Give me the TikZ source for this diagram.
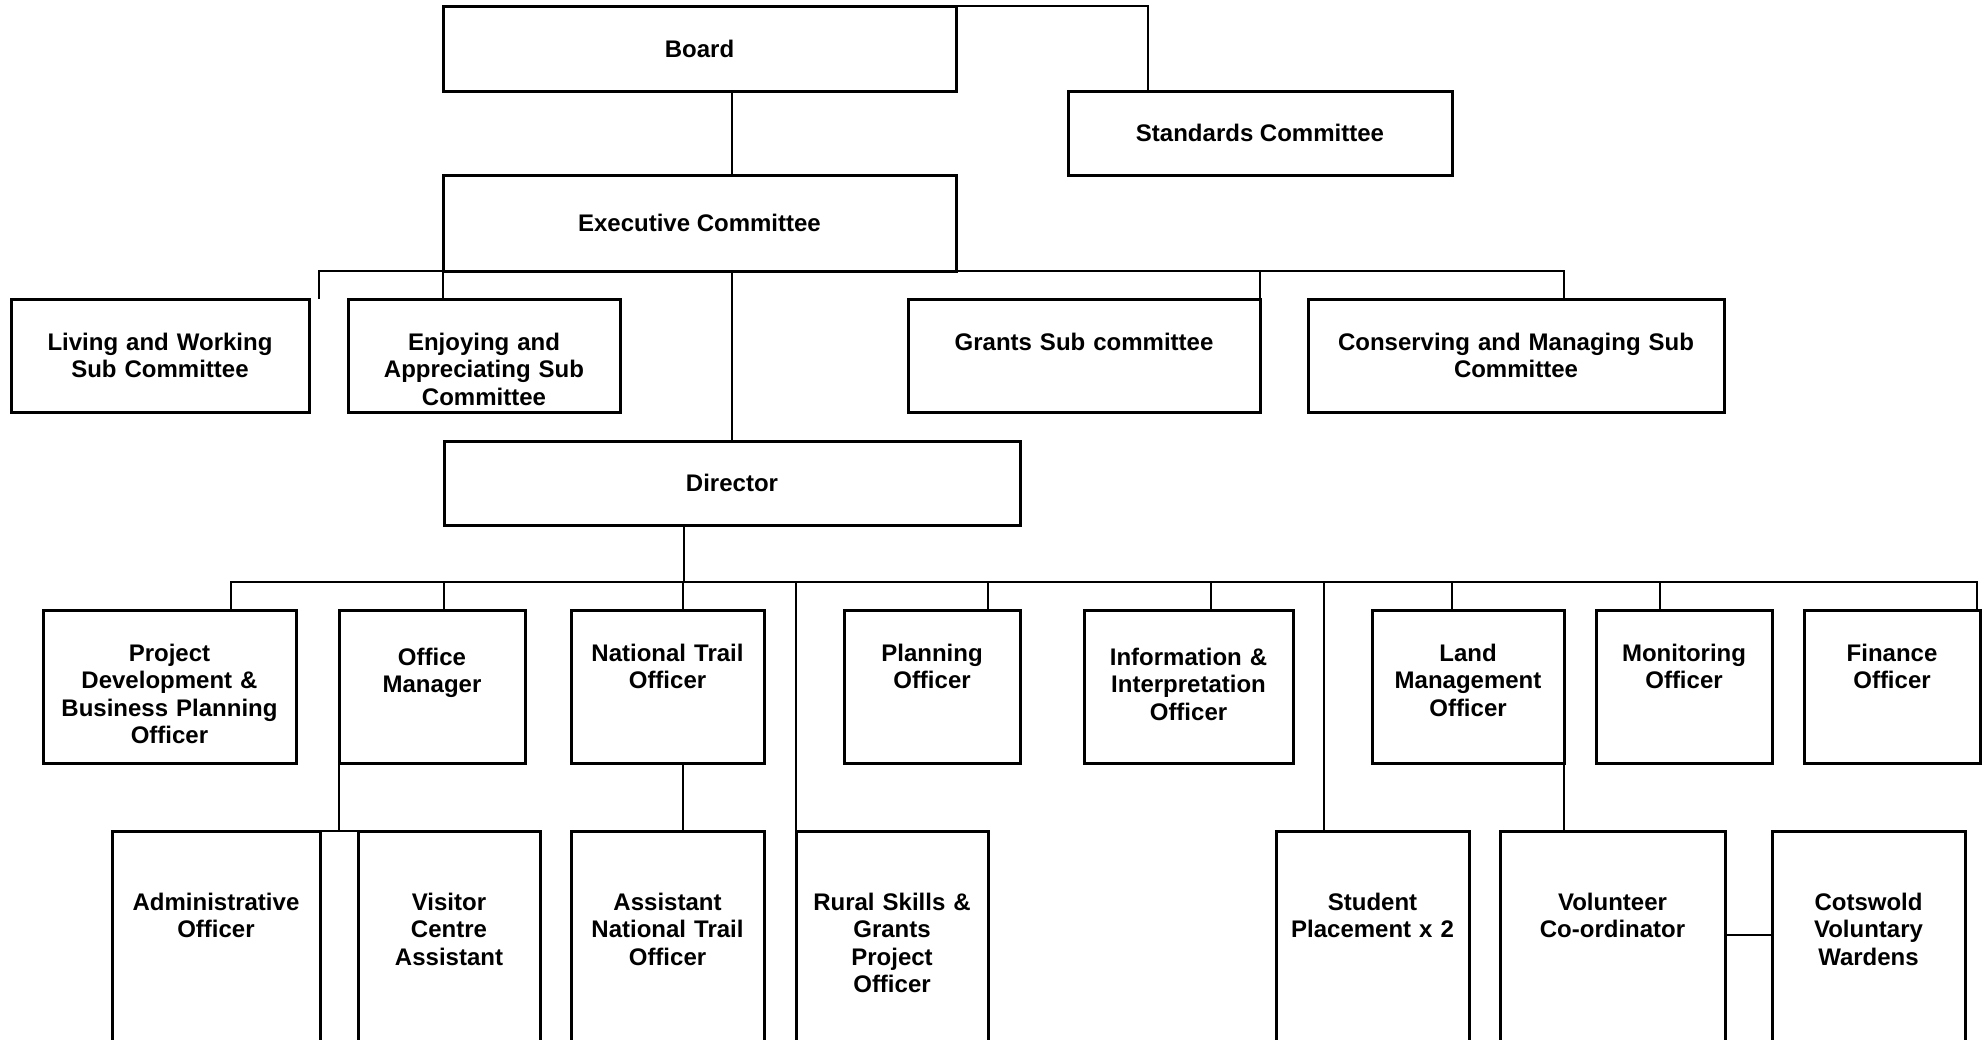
\documentclass[tikz,border=0pt]{standalone}
\usepackage{fontspec}
\setmainfont{Liberation Sans}
\newcommand{\orgfont}{\bfseries\fontsize{24}{27.6}\selectfont}
\tikzset{
    unit/.style =   {rectangle,
                    fill=white,
                    draw=black,
                    text=black,
                    line width=3pt,
                    inner sep=0pt,
                    outer sep=0pt,
                    align=center,
                    anchor=north west,
                    font=\orgfont},
    sub/.style =    {unit,
                    text height=51pt,
                    text depth=62pt},
    post/.style =   {unit,
                    text height=51pt,
                    text depth=102pt},
    staff/.style =  {unit,
                    text height=79pt,
                    text depth=151pt},
    link/.style =   {draw=black,
                    line width=2pt}}

\begin{document}
\begin{tikzpicture}[x=1pt,y=-1pt]
    \path[use as bounding box,clip] (0,0) rectangle (1984,1039);

    \node[unit, minimum width=513pt, minimum height=85pt]   (board)     at (443,6)      {Board};
    \node[unit, minimum width=384pt, minimum height=84pt]   (standards) at (1068,91)    {Standards Committee};
    \node[unit, minimum width=513pt, minimum height=96pt]   (exec)      at (443,175)    {Executive Committee};
    \node[sub, text width=298pt]                            (living)    at (11,299)     {Living and Working\\Sub Committee};
    \node[sub, text width=272pt]                            (enjoy)     at (348,299)    {Enjoying and\\Appreciating Sub\\Committee};
    \node[sub, text width=352pt]                            (grants)    at (908,299)    {Grants Sub committee};
    \node[sub, text width=416pt]                            (conserve)  at (1308,299)   {Conserving and Managing Sub\\Committee};
    \node[unit, minimum width=576pt, minimum height=84pt]   (director)  at (444,441)    {Director};

    \node[post, text width=253pt]                           (pd)        at (43,610)     {Project\\Development \&\\Business Planning\\Officer};
    \node[post, text width=186pt, text height=55pt, text depth=98pt] (om) at (339,610) {Office\\Manager};
    \node[post, text width=193pt]                           (nto)       at (571,610)    {National Trail\\Officer};
    \node[post, text width=176pt]                           (plan)      at (844,610)    {Planning\\Officer};
    \node[post, text width=209pt, text height=55pt, text depth=98pt] (info) at (1084,610) {Information \&\\Interpretation\\Officer};
    \node[post, text width=192pt]                           (land)      at (1372,610)   {Land\\Management\\Officer};
    \node[post, text width=176pt]                           (mon)       at (1596,610)   {Monitoring\\Officer};
    \node[post, text width=176pt]                           (fin)       at (1804,610)   {Finance\\Officer};

    \node[staff, text width=208pt]                          (admin)     at (112,831)    {Administrative\\Officer};
    \node[staff, text width=182pt]                          (visitor)   at (358,831)    {Visitor\\Centre\\Assistant};
    \node[staff, text width=193pt]                          (anto)      at (571,831)    {Assistant\\National Trail\\Officer};
    \node[staff, text width=192pt]                          (rural)     at (796,831)    {Rural Skills \&\\Grants\\Project\\Officer};
    \node[staff, text width=193pt]                          (student)   at (1276,831)   {Student\\Placement x 2};
    \node[staff, text width=225pt]                          (volunteer) at (1500,831)   {Volunteer\\Co-ordinator};
    \node[staff, text width=193pt]                          (cotswold)  at (1772,831)   {Cotswold\\Voluntary\\Wardens};

    \coordinate (split) at (684,582);

    \draw[link] (board.south -| director) -- (exec.north -| director);
    \draw[link] (board.north east) -| ([xshift=80pt]standards.north west);
    \draw[link] ([xshift=10pt]living.north east) |- (exec.south -| director);
    \draw[link] (enjoy.north -| exec.west) -- (exec.south west);
    \draw[link] (grants.north east) |- (exec.south east);
    \draw[link] ([xshift=256pt]conserve.north west) |- (exec.south east);
    \draw[link] (exec.south -| director) -- (director.north);

    \draw[link] ([xshift=240pt]director.south west) -- (split);
    \foreach \n/\dx in {pd/188,om/105,nto/112,plan/144,info/127,land/80,mon/64,fin/173}
        \draw[link] ([xshift=\dx pt]\n.north west) |- (split);
    \draw[link] (rural.north west) |- (split);
    \draw[link] ([xshift=48pt]student.north west) |- (split);

    \draw[link] (om.south west) -- (om.south west |- admin.north);
    \draw[link] (admin.north east) -- (visitor.north west);
    \draw[link] ([xshift=112pt]nto.south west) -- ([xshift=112pt]anto.north west);
    \draw[link] (land.south east) -- (land.south east |- volunteer.north);
    \draw[link] ([yshift=-104pt]volunteer.north east) -- ([yshift=-104pt]cotswold.north west);
\end{tikzpicture}
\end{document}
